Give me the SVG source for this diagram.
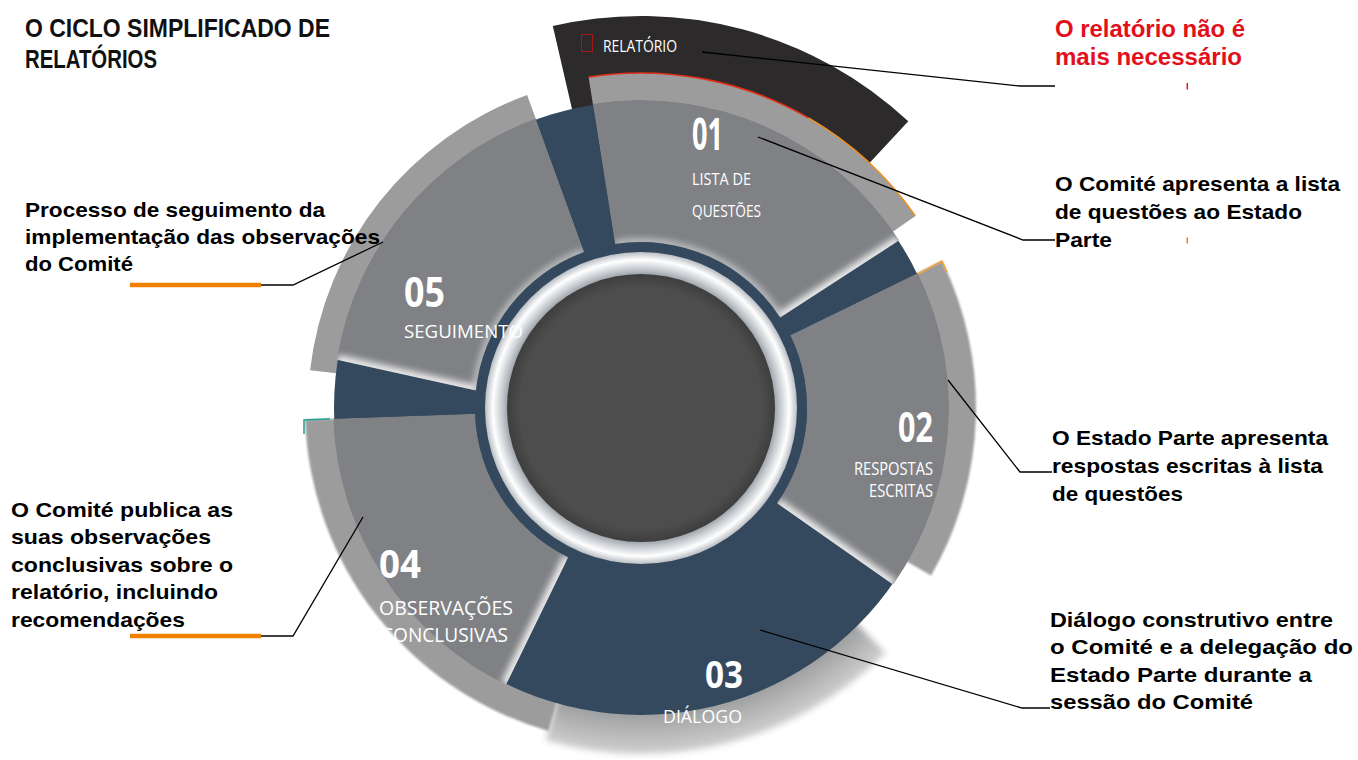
<svg xmlns="http://www.w3.org/2000/svg" width="1358" height="760" viewBox="0 0 1358 760">
<style>
.cl{font-family:"Liberation Sans",Arial,sans-serif;font-weight:bold;font-size:21px;fill:#000}
.red{fill:#e3101b;font-size:23px}
.ttl{font-family:"Liberation Sans",Arial,sans-serif;font-weight:bold;font-size:26px;fill:#111}
.num{font-family:"Open Sans","Liberation Sans",sans-serif;font-weight:bold;fill:#fff}
.lab{font-family:"Open Sans","Liberation Sans",sans-serif;fill:#fff}
.conn{fill:none;stroke:#000;stroke-width:1.3}
.org{fill:none;stroke:#f08000;stroke-width:4.5}
.seg{fill:#808185}
.back{fill:#9c9c9d}
.glow{fill:none;stroke:#fff;stroke-width:10;stroke-opacity:.9}
.glowi{fill:none;stroke:#fff;stroke-width:6;stroke-opacity:.6}
</style>
<defs>
<filter id="blur" x="-20%" y="-20%" width="140%" height="140%"><feGaussianBlur stdDeviation="3"/></filter>
<filter id="soft" x="-10%" y="-10%" width="120%" height="120%"><feGaussianBlur stdDeviation="1.2"/></filter>
<filter id="gl" x="-50%" y="-50%" width="200%" height="200%"><feGaussianBlur stdDeviation="3.5"/></filter>
<radialGradient id="ring" gradientUnits="userSpaceOnUse" cx="641" cy="408" r="156">
<stop offset="0.84" stop-color="#8d939a"/>
<stop offset="0.89" stop-color="#c4c8cd"/>
<stop offset="0.95" stop-color="#ffffff"/>
<stop offset="1" stop-color="#b9bec4"/>
</radialGradient>
<radialGradient id="core" gradientUnits="userSpaceOnUse" cx="641" cy="408" r="134">
<stop offset="0.9" stop-color="#4d4d4d"/>
<stop offset="1" stop-color="#3e3e3e"/>
</radialGradient>
<radialGradient id="sh" gradientUnits="userSpaceOnUse" cx="641" cy="408" r="350">
<stop offset="0.86" stop-color="#999a9b"/>
<stop offset="1" stop-color="#d4d4d4"/>
</radialGradient>
<path id="p01" d="M592.8,103.8 A308,308 0 0 1 899.3,240.3 L780.2,317.6 A166,166 0 0 0 615.0,244.0 Z"/>
<path id="p02" d="M917.8,273.0 A308,308 0 0 1 893.3,584.7 L777.0,503.2 A166,166 0 0 0 790.2,335.2 Z"/>
<path id="p04" d="M506.0,684.8 A308,308 0 0 1 333.2,418.7 L475.1,413.8 A166,166 0 0 0 568.2,557.2 Z"/>
<path id="p05" d="M336.8,359.8 A308,308 0 0 1 535.7,118.6 L584.2,252.0 A166,166 0 0 0 475.9,390.6 Z"/>
<clipPath id="c01"><use href="#p01"/></clipPath>
<clipPath id="c02"><use href="#p02"/></clipPath>
<clipPath id="c04"><use href="#p04"/></clipPath>
<clipPath id="c05"><use href="#p05"/></clipPath>
</defs>
<rect width="1358" height="760" fill="#fff"/>

<g id="title">
<text class="ttl" x="25" y="37" textLength="305" lengthAdjust="spacingAndGlyphs">O CICLO SIMPLIFICADO DE</text>
<text class="ttl" x="25" y="68" textLength="132" lengthAdjust="spacingAndGlyphs">RELATÓRIOS</text>
</g>

<g id="relatorio">
<path d="M552.8,26.05 A392,392 0 0 1 908.3,121.3 L849.0,184.9 A305,305 0 0 0 572.4,110.8 Z" fill="#2c2a2b"/>
<rect x="581.5" y="34.5" width="11" height="17" fill="none" stroke="#a01818" stroke-width="1"/>
<text class="lab" x="603" y="52" font-size="16" textLength="74" lengthAdjust="spacingAndGlyphs">RELATÓRIO</text>
</g>

<g id="backs">
<path class="back" d="M588.6,77.1 A335,335 0 0 1 915.4,215.9 L886.7,235.9 A300,300 0 0 0 594.1,111.7 Z"/>
<path d="M588.6,77.1 A335,335 0 0 1 808.5,117.9" fill="none" stroke="#e0301a" stroke-width="1.6"/>
<path d="M808.5,117.9 A335,335 0 0 1 915.4,215.9" fill="none" stroke="#f0901e" stroke-width="1.6"/>
<path class="back" filter="url(#soft)" d="M942.1,261.1 A335,335 0 0 1 931.1,575.5 L857.5,533 A250,250 0 0 0 865.7,298.4 Z"/>
<polyline points="918,274 942,261 947,272" fill="none" stroke="#f0a030" stroke-width="1.5"/>
<path fill="url(#sh)" filter="url(#blur)" d="M885.7,652.7 A346,346 0 0 1 545.6,740.6 L572.1,648.3 A250,250 0 0 0 817.8,584.8 Z"/>
<path class="back" filter="url(#soft)" d="M548.4,731.0 A336,336 0 0 1 305.2,419.7 L391.2,416.7 A250,250 0 0 0 572.1,648.3 Z"/>
<polyline points="304,434 304,420 330,419" fill="none" stroke="#20a090" stroke-width="1.5"/>
<path class="back" fill="#a0a0a1" d="M310.1,370.3 A333,333 0 0 1 527.1,95.1 L555.5,173.1 A250,250 0 0 0 392.6,379.7 Z"/>
</g>

<g id="disc">
<circle cx="641" cy="408" r="307" fill="#34495e"/>
</g>

<g id="seg01">
<g clip-path="url(#c01)">
<use href="#p01" class="seg"/>
<path class="glow" filter="url(#gl)" d="M780.2,317.6 L899.3,240.3"/>
<path class="glowi" filter="url(#gl)" d="M615.0,244.0 A166,166 0 0 1 780.2,317.6"/>
</g>
<text class="num" x="692" y="150" font-size="44" textLength="31" lengthAdjust="spacingAndGlyphs">01</text>
<text class="lab" x="692" y="185" font-size="17" textLength="59" lengthAdjust="spacingAndGlyphs">LISTA DE</text>
<text class="lab" x="692" y="217" font-size="17" textLength="69" lengthAdjust="spacingAndGlyphs">QUESTÕES</text>
</g>

<g id="seg02">
<g clip-path="url(#c02)">
<use href="#p02" class="seg"/>
<path class="glow" filter="url(#gl)" d="M777.0,503.2 L893.3,584.7"/>
</g>
<text class="num" x="898" y="442" font-size="41" textLength="35" lengthAdjust="spacingAndGlyphs">02</text>
<text class="lab" x="854" y="475" font-size="18" textLength="79" lengthAdjust="spacingAndGlyphs">RESPOSTAS</text>
<text class="lab" x="869" y="497" font-size="18" textLength="64" lengthAdjust="spacingAndGlyphs">ESCRITAS</text>
</g>

<g id="seg03">
<text class="num" x="705" y="688" font-size="37" textLength="38" lengthAdjust="spacingAndGlyphs">03</text>
<text class="lab" x="663" y="723" font-size="19" textLength="79" lengthAdjust="spacingAndGlyphs">DIÁLOGO</text>
</g>

<g id="seg04">
<g clip-path="url(#c04)">
<use href="#p04" class="seg"/>
<path class="glow" filter="url(#gl)" d="M568.2,557.2 L506.0,684.8"/>
</g>
<text class="num" x="379" y="578" font-size="40" textLength="42" lengthAdjust="spacingAndGlyphs">04</text>
<text class="lab" x="379" y="615" font-size="20" textLength="134" lengthAdjust="spacingAndGlyphs">OBSERVAÇÕES</text>
<text class="lab" x="381" y="642" font-size="20" textLength="127" lengthAdjust="spacingAndGlyphs">CONCLUSIVAS</text>
</g>

<g id="seg05">
<g clip-path="url(#c05)">
<use href="#p05" class="seg"/>
<path class="glow" filter="url(#gl)" d="M475.9,390.6 L336.8,359.8"/>
<path class="glowi" filter="url(#gl)" d="M475.9,390.6 A166,166 0 0 1 584.2,252.0"/>
</g>
</g>

<g id="center">
<circle cx="641" cy="408" r="156" fill="url(#ring)"/>
<circle cx="641" cy="408" r="134" fill="url(#core)"/>
</g>

<g id="seg05-label">
<text class="num" x="404" y="307" font-size="41" textLength="41" lengthAdjust="spacingAndGlyphs">05</text>
<text class="lab" x="404" y="338" font-size="19" textLength="119" lengthAdjust="spacingAndGlyphs">SEGUIMENTO</text>
</g>

<g id="connectors">
<polyline class="conn" points="702,52 1020,86 1055,86"/>
<polyline class="conn" points="758,137 1023,240 1055,240"/>
<polyline class="conn" points="948,380 1020,472 1052,472"/>
<polyline class="conn" points="760,630 1022,708 1050,708"/>
<polyline class="conn" points="261,285 293,285 383,242"/>
<polyline class="conn" points="261,636 293,636 363,517"/>
<line class="org" x1="130" y1="285" x2="261" y2="285"/>
<line class="org" x1="130" y1="636" x2="261" y2="636"/>
<line x1="1187.3" y1="83" x2="1187.3" y2="89.5" stroke="#e3101b" stroke-width="1.5"/>
<line x1="1187.3" y1="237.5" x2="1187.3" y2="243.5" stroke="#f08000" stroke-width="1.5"/>
</g>

<g id="note-relatorio">
<text class="cl red" x="1055" y="37" textLength="190" lengthAdjust="spacingAndGlyphs">O relatório não é</text>
<text class="cl red" x="1055" y="65" textLength="187" lengthAdjust="spacingAndGlyphs">mais necessário</text>
</g>
<g id="note-01">
<text class="cl" x="1055" y="191" textLength="285" lengthAdjust="spacingAndGlyphs">O Comité apresenta a lista</text>
<text class="cl" x="1055" y="219" textLength="247" lengthAdjust="spacingAndGlyphs">de questões ao Estado</text>
<text class="cl" x="1055" y="247" textLength="57" lengthAdjust="spacingAndGlyphs">Parte</text>
</g>
<g id="note-02">
<text class="cl" x="1052" y="445" textLength="276" lengthAdjust="spacingAndGlyphs">O Estado Parte apresenta</text>
<text class="cl" x="1052" y="473" textLength="271" lengthAdjust="spacingAndGlyphs">respostas escritas à lista</text>
<text class="cl" x="1052" y="501" textLength="131" lengthAdjust="spacingAndGlyphs">de questões</text>
</g>
<g id="note-03">
<text class="cl" x="1050" y="627" textLength="283" lengthAdjust="spacingAndGlyphs">Diálogo construtivo entre</text>
<text class="cl" x="1050" y="654" textLength="303" lengthAdjust="spacingAndGlyphs">o Comité e a delegação do</text>
<text class="cl" x="1050" y="682" textLength="262" lengthAdjust="spacingAndGlyphs">Estado Parte durante a</text>
<text class="cl" x="1050" y="709" textLength="203" lengthAdjust="spacingAndGlyphs">sessão do Comité</text>
</g>
<g id="note-05">
<text class="cl" x="25" y="217" textLength="300" lengthAdjust="spacingAndGlyphs">Processo de seguimento da</text>
<text class="cl" x="25" y="244" textLength="355" lengthAdjust="spacingAndGlyphs">implementação das observações</text>
<text class="cl" x="25" y="271" textLength="108" lengthAdjust="spacingAndGlyphs">do Comité</text>
</g>
<g id="note-04">
<text class="cl" x="11" y="517" textLength="222" lengthAdjust="spacingAndGlyphs">O Comité publica as</text>
<text class="cl" x="11" y="544" textLength="200" lengthAdjust="spacingAndGlyphs">suas observações</text>
<text class="cl" x="11" y="572" textLength="222" lengthAdjust="spacingAndGlyphs">conclusivas sobre o</text>
<text class="cl" x="11" y="599" textLength="207" lengthAdjust="spacingAndGlyphs">relatório, incluindo</text>
<text class="cl" x="11" y="627" textLength="174" lengthAdjust="spacingAndGlyphs">recomendações</text>
</g>
</svg>
